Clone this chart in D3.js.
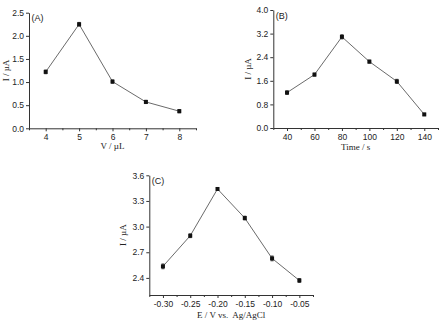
<!DOCTYPE html>
<html>
<head>
<meta charset="utf-8">
<script src="https://cdnjs.cloudflare.com/ajax/libs/d3/7.8.5/d3.min.js"></script>
<style>
  body { margin: 0; background: #fff; }
  .tick text { font-family: "Liberation Sans", Arial, sans-serif; font-size: 8.5px; fill: #222; }
  .domain, .tick line { stroke: #333; }
</style>
</head>
<body>
<div id="chart"></div>
<script>
// panel A
const volume = [4, 5, 6, 7, 8];
const currentA = [1.22, 2.25, 1.01, 0.57, 0.37];
const errA = [0.04, 0.04, 0.035, 0.035, 0.035];
const yTicksA = [0.0, 0.5, 1.0, 1.5, 2.0, 2.5];

// panel B
const time = [40, 60, 80, 100, 120, 140];
const currentB = [1.2, 1.81, 3.09, 2.25, 1.58, 0.46];
const errB = [0.06, 0.05, 0.07, 0.05, 0.07, 0.04];
const yTicksB = [0.0, 0.8, 1.6, 2.4, 3.2, 4.0];

// panel C
const potential = [-0.30, -0.25, -0.20, -0.15, -0.10, -0.05];
const currentC = [2.535, 2.893, 3.44, 3.10, 2.628, 2.37];
const errC = [0.028, 0.022, 0.012, 0.022, 0.028, 0.022];
const yTicksC = [2.4, 2.7, 3.0, 3.3, 3.6];

const W = 441, H = 323;
const svg = d3.select("#chart").append("svg")
    .attr("width", W)
    .attr("height", H);

function panel(opt) {
    const x = d3.scaleLinear().domain(opt.xDomain).range([opt.left, opt.right]);
    const y = d3.scaleLinear().domain(opt.yDomain).range([opt.bottom, opt.top]);
    const g = svg.append("g");

    // minor ticks on x axis
    g.append("g")
        .attr("transform", `translate(0,${opt.bottom})`)
        .call(d3.axisBottom(x).tickValues(opt.xMinor).tickSize(2).tickFormat("").tickSizeOuter(0))
        .select(".domain").remove();

    g.append("g")
        .attr("transform", `translate(0,${opt.bottom})`)
        .call(d3.axisBottom(x).tickValues(opt.xs).tickSize(3).tickSizeOuter(0).tickPadding(3).tickFormat(opt.xFormat));

    g.append("g")
        .attr("transform", `translate(${opt.left},0)`)
        .call(d3.axisLeft(y).tickValues(opt.yTicks).tickSize(3).tickSizeOuter(0).tickPadding(2).tickFormat(d3.format(opt.yFormat)));

    const pts = opt.xs.map((d, i) => ({ x: d, y: opt.ys[i], e: opt.err[i] }));

    g.append("path")
        .datum(pts)
        .attr("fill", "none")
        .attr("stroke", "#444")
        .attr("stroke-width", 0.8)
        .attr("d", d3.line().x(d => x(d.x)).y(d => y(d.y)));

    g.selectAll(".err").data(pts).enter().append("path")
        .attr("stroke", "#222")
        .attr("stroke-width", 0.8)
        .attr("fill", "none")
        .attr("d", d => {
            const cx = x(d.x), y1 = y(d.y + d.e), y2 = y(d.y - d.e);
            return `M${cx},${y1}V${y2}M${cx - 1.5},${y1}H${cx + 1.5}M${cx - 1.5},${y2}H${cx + 1.5}`;
        });

    g.selectAll(".pt").data(pts).enter().append("rect")
        .attr("x", d => x(d.x) - 2)
        .attr("y", d => y(d.y) - 2)
        .attr("width", 4)
        .attr("height", 4)
        .attr("fill", "#111");

    g.append("text")
        .attr("x", opt.left + 2.5)
        .attr("y", opt.top + 8.5)
        .style("font-family", "Liberation Sans, Arial, sans-serif")
        .style("font-size", "9px")
        .attr("fill", "#222")
        .text(opt.tag);

    g.append("text")
        .attr("x", (opt.left + opt.right) / 2)
        .attr("y", opt.bottom + opt.titleGap)
        .attr("text-anchor", "middle")
        .style("font-family", "Liberation Serif, serif")
        .style("font-size", "9px")
        .attr("fill", "#222")
        .attr("xml:space", "preserve")
        .text(opt.xTitle);

    g.append("text")
        .attr("transform", `translate(${opt.yTitleX},${(opt.top + opt.bottom) / 2}) rotate(-90)`)
        .attr("text-anchor", "middle")
        .style("font-family", "Liberation Serif, serif")
        .style("font-size", "9px")
        .attr("fill", "#222")
        .text("I / \u00b5A");
}

panel({
    left: 29, right: 196, top: 12.7, bottom: 128.3,
    xDomain: [3.5, 8.5], yDomain: [0, 2.5],
    xs: volume, ys: currentA, err: errA, yTicks: yTicksA,
    xMinor: [3.5, 4.5, 5.5, 6.5, 7.5, 8.5],
    xFormat: d3.format("d"), yFormat: ".1f",
    tag: "(A)", xTitle: "V / \u00b5L", yTitleX: 9, titleGap: 21
});

panel({
    left: 273.3, right: 438, top: 10, bottom: 128,
    xDomain: [30, 150], yDomain: [0, 4],
    xs: time, ys: currentB, err: errB, yTicks: yTicksB,
    xMinor: [30, 50, 70, 90, 110, 130, 150],
    xFormat: d3.format("d"), yFormat: ".1f",
    tag: "(B)", xTitle: "Time / s", yTitleX: 251, titleGap: 22
});

panel({
    left: 149.3, right: 313, top: 175.3, bottom: 295,
    xDomain: [-0.325, -0.025], yDomain: [2.2, 3.6],
    xs: potential, ys: currentC, err: errC, yTicks: yTicksC,
    xMinor: [-0.325, -0.275, -0.225, -0.175, -0.125, -0.075, -0.025],
    xFormat: d => d3.format(".2f")(d).replace("\u2212", "-"), yFormat: ".1f",
    tag: "(C)", xTitle: "E / V vs.  Ag/AgCl", yTitleX: 126, titleGap: 23
});
</script>
</body>
</html>
